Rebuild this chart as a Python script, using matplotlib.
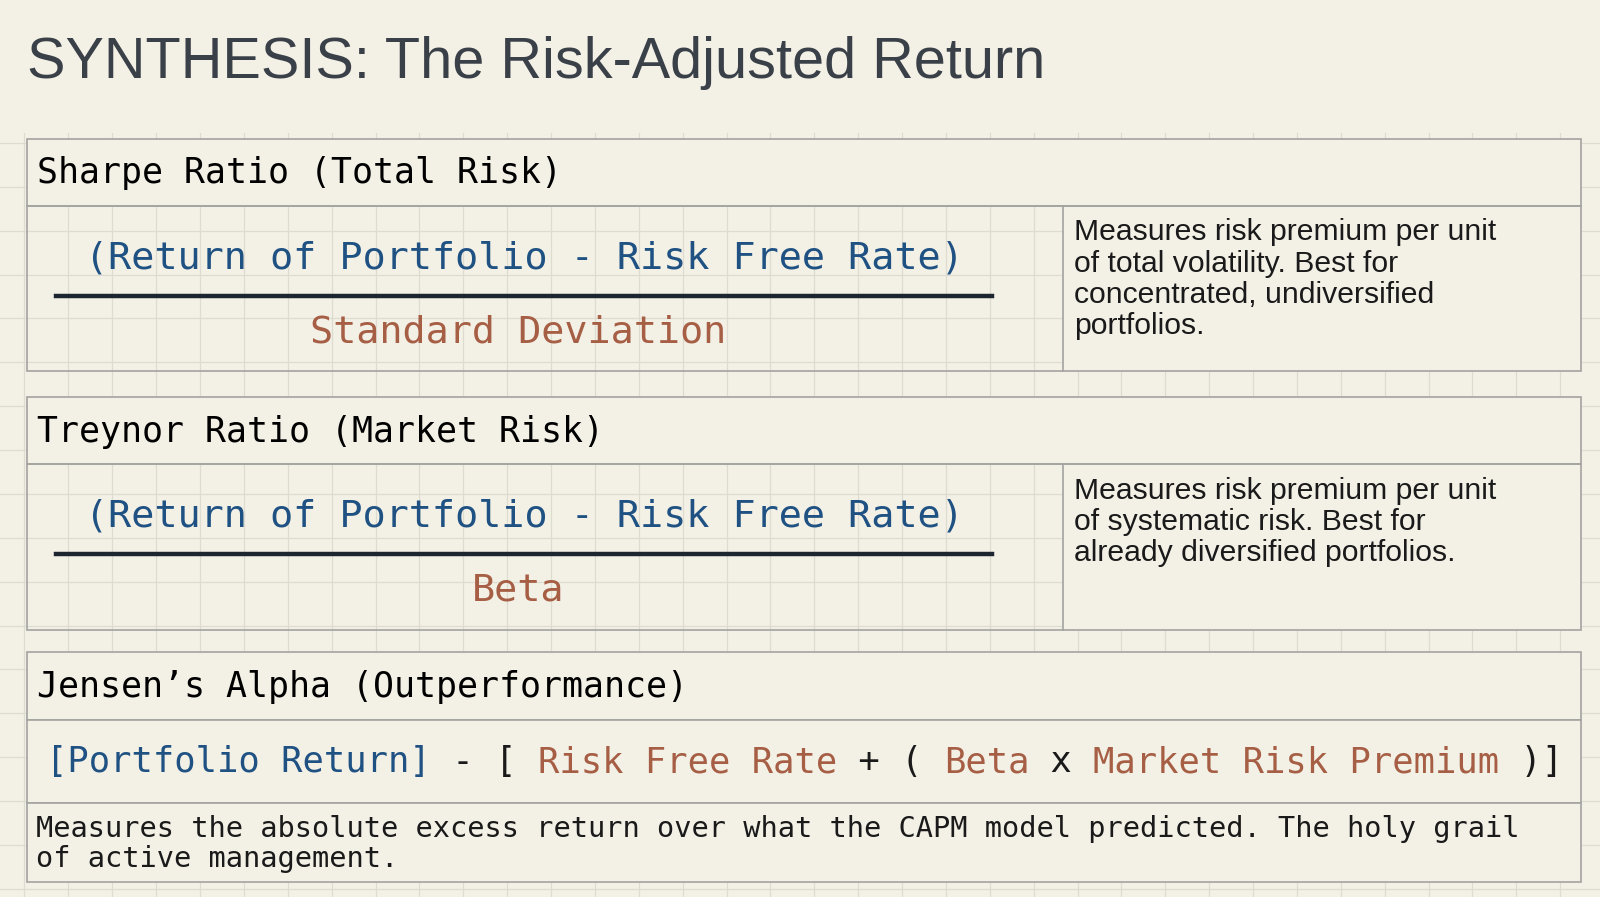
import matplotlib.pyplot as plt
from matplotlib.patches import Rectangle

# content
TITLE = 'SYNTHESIS: The Risk-Adjusted Return'
HEADERS = ['Sharpe Ratio (Total Risk)', 'Treynor Ratio (Market Risk)', 'Jensen\u2019s Alpha (Outperformance)']
NUMERATORS = ['(Return of Portfolio - Risk Free Rate)', '(Return of Portfolio - Risk Free Rate)']
DENOMINATORS = ['Standard Deviation', 'Beta']
NOTES = ['Measures risk premium per unit\nof total volatility. Best for\nconcentrated, undiversified\nportfolios.',
         'Measures risk premium per unit\nof systematic risk. Best for\nalready diversified portfolios.']
JENSEN_PARTS = [('[Portfolio Return]', 'blue'), (' - [ ', 'black'), ('Risk Free Rate', 'rust'),
                (' + ( ', 'black'), ('Beta', 'rust'), (' x ', 'black'),
                ('Market Risk Premium', 'rust'), (' )]', 'black')]
JENSEN_NOTE = 'Measures the absolute excess return over what the CAPM model predicted. The holy grail\nof active management.'

BG = '#f3f0e6'
GRID = '#dedbd1'
EDGE = '#a3a3a0'
BLUE = '#1f5283'
RUST = '#a65f45'
COLORS = {'blue': BLUE, 'rust': RUST, 'black': '#1a1a1a'}
MONO = 'DejaVu Sans Mono'
SANS = 'Liberation Sans'

W, H = 1568, 879
fig = plt.figure(figsize=(16, 8.97), dpi=100, facecolor=BG)
ax = fig.add_axes([0, 0, 1, 1])
ax.set_xlim(0, W)
ax.set_ylim(H, 0)
ax.axis('off')
ax.set_facecolor(BG)

# background grid
for x in range(24, W, 43):
    ax.plot([x, x], [130, H], color=GRID, lw=0.9, zorder=0)
for y in range(140, H, 43):
    ax.plot([0, W], [y, y], color=GRID, lw=0.9, zorder=0)

ax.text(26, 62, TITLE, fontsize=41.5, color='#3a4048', family=SANS, va='center', ha='left')


def box(x0, y0, x1, y1, fill=True):
    ax.add_patch(Rectangle((x0, y0), x1 - x0, y1 - y0, facecolor=BG if fill else 'none',
                           edgecolor=EDGE, lw=1.2, zorder=2))


# Sharpe / Treynor blocks
tops = [136, 389]
for i in range(2):
    t = tops[i]
    box(26, t, 1549, t + 66)
    ax.text(36, t + 34, HEADERS[i], fontsize=25.1, family=MONO, va='center', zorder=3)
    box(26, t + 66, 1549, t + 228, fill=False)
    ax.plot([1042, 1042], [t + 66, t + 228], color=EDGE, lw=1.2, zorder=2)
    ax.add_patch(Rectangle((1042, t + 66), 507, 162, facecolor=BG, edgecolor='none', zorder=1))
    ax.text(514, t + 117, NUMERATORS[i], fontsize=27.7, family=MONO, color=BLUE,
            ha='center', va='center', zorder=3)
    ax.plot([55, 972], [t + 154, t + 154], color='#1d2630', lw=3.2, zorder=3)
    ax.text(508, t + 190, DENOMINATORS[i], fontsize=27.7, family=MONO, color=RUST,
            ha='center', va='center', zorder=3)
    ax.text(1053, t + 78, NOTES[i], fontsize=21.7, family=SANS, color='#1a1a1a',
            ha='left', va='top', linespacing=1.15, zorder=3)

# Jensen block
box(26, 639, 1549, 706)
ax.text(36, 673, HEADERS[2], fontsize=25.1, family=MONO, va='center', zorder=3)
box(26, 706, 1549, 787)
box(26, 787, 1549, 864)

x = 45
r = fig.canvas.get_renderer()
for txt, c in JENSEN_PARTS:
    t = ax.text(x, 747, txt, fontsize=25.6, family=MONO, color=COLORS[c], va='center', ha='left', zorder=3)
    bb = t.get_window_extent(renderer=r)
    x += bb.width * W / fig.bbox.width
ax.text(35, 827, JENSEN_NOTE, fontsize=20.6, family=MONO, color='#1a1a1a', va='center', ha='left',
        linespacing=1.1, zorder=3)

fig.savefig('out.png', dpi=100, facecolor=BG)
